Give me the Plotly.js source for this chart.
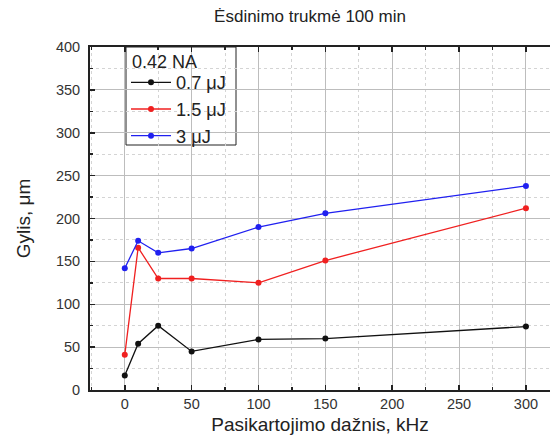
<!DOCTYPE html>
<html>
<head>
<meta charset="utf-8">
<script src="https://cdn.plot.ly/plotly-3.0.1.min.js"></script>
<style>html,body{margin:0;padding:0;background:#fff;overflow:hidden;}#chart{width:550px;height:443px;}</style>
</head>
<body>
<div id="chart"></div>
<script>
const freq = [0, 10, 25, 50, 100, 150, 300];
const depth07 = [17, 54, 75, 45, 59, 60, 74];
const depth15 = [41, 166, 130, 130, 125, 151, 212];
const depth3 = [142, 174, 160, 165, 190, 206, 238];
const seriesNames = ['0.7 μJ', '1.5 μJ', '3 μJ'];
const legendTitle = '0.42 NA';
const seriesColors = ['#111111', '#f02020', '#2020f0'];
const seriesValues = [depth07, depth15, depth3];

const traces = seriesValues.map((vals, i) => ({
  x: freq, y: vals, name: seriesNames[i], type: 'scatter', mode: 'lines+markers',
  line: {color: seriesColors[i], width: 1.3},
  marker: {color: seriesColors[i], size: 6}
}));

const axisCommon = {
  showline: true, linecolor: '#222', linewidth: 2,
  ticks: 'inside', ticklen: 5, tickwidth: 1.5, tickcolor: '#222',
  showgrid: true, gridcolor: '#bdbdbd', gridwidth: 1,
  zeroline: false,
  tickfont: {family: 'Liberation Sans, Arial, sans-serif', size: 14.5, color: '#333'},
  minor: {dtick: 25, ticks: 'inside', ticklen: 3, tickcolor: '#222', showgrid: true, gridcolor: '#d4d4d4', griddash: 'dot', gridwidth: 1}
};

const layout = {
  width: 550, height: 443,
  margin: {l: 90, r: 0, t: 47, b: 53},
  paper_bgcolor: '#fff', plot_bgcolor: '#fff',
  font: {family: 'Liberation Sans, Arial, sans-serif', color: '#222'},
  title: {text: 'Ėsdinimo trukmė 100 min', font: {size: 17, color: '#222'}, x: 310/550, xanchor: 'center', xref: 'container', y: 1 - 16/443, yanchor: 'middle'},
  xaxis: Object.assign({}, axisCommon, {
    range: [-26, 318], dtick: 50, tick0: 0, mirror: 'allticks',
    title: {text: 'Pasikartojimo dažnis, kHz', font: {size: 19, color: '#222'}, standoff: 6}
  }),
  yaxis: Object.assign({}, axisCommon, {
    range: [0, 400], dtick: 50, tick0: 0, ticklabelstandoff: 5, mirror: false,
    title: {text: 'Gylis, μm', font: {size: 19, color: '#222'}, standoff: 20}
  }),
  shapes: [{
    type: 'rect', xref: 'paper', yref: 'paper', layer: 'between',
    x0: 36/460, x1: 146/460, y0: 245/343, y1: 1,
    fillcolor: '#fff', line: {color: '#222', width: 1}
  }],
  annotations: [{
    text: legendTitle, xref: 'paper', yref: 'paper', x: 40/460, y: 328/343,
    xanchor: 'left', yanchor: 'middle', showarrow: false,
    font: {size: 18, color: '#222'}
  }],
  showlegend: true,
  legend: {
    x: 36/460, y: 326/343, xanchor: 'left', yanchor: 'top',
    bgcolor: 'rgba(0,0,0,0)', borderwidth: 0,
    font: {size: 18.2, color: '#222'},
    itemwidth: 40, tracegroupgap: 0
  }
};

Plotly.newPlot('chart', traces, layout, {displayModeBar: false, staticPlot: true});
</script>
</body>
</html>
